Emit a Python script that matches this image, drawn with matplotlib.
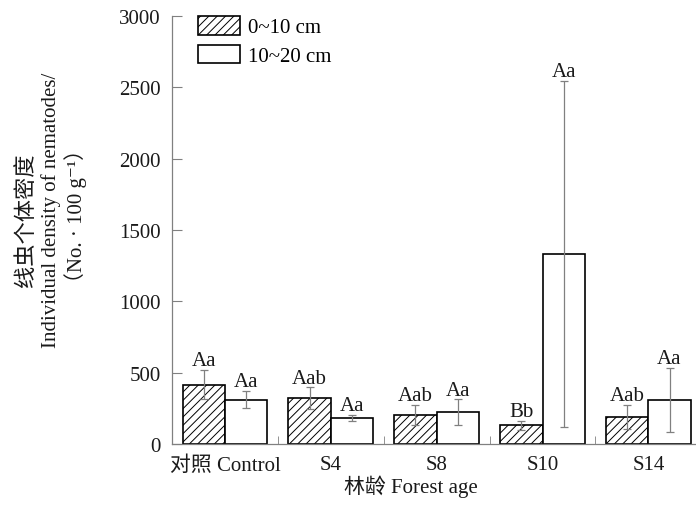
import matplotlib
matplotlib.use("Agg")
import matplotlib.pyplot as plt
import numpy as np

# values
groups = ["对照 Control", "S4", "S8", "S10", "S14"]
depth_labels = ["0~10 cm", "10~20 cm"]
mean_0_10 = [416, 322, 203, 130, 191]
err_0_10 = [102, 75, 69, 33, 85]
mean_10_20 = [309, 182, 222, 1331, 308]
err_10_20 = [60, 23, 90, 1212, 223]
sig_0_10 = ["Aa", "Aab", "Aab", "Bb", "Aab"]
sig_10_20 = ["Aa", "Aa", "Aa", "Aa", "Aa"]
ylabel_lines = ["线虫个体密度", "Individual density of nematodes/", "（No. · 100 g⁻¹）"]

FONT = ["Liberation Serif", "DejaVu Serif", "Noto Sans CJK SC"]
plt.rcParams["font.family"] = FONT
plt.rcParams["font.size"] = 15
plt.rcParams["hatch.linewidth"] = 0.7
plt.rcParams["hatch.color"] = "#333333"
TXT = "#1a1a1a"
GREY = "#808080"

fig = plt.figure(figsize=(6.96, 5.10), dpi=100)
ax = fig.add_axes([172 / 696, 65 / 510, 524 / 696, 428 / 510])

x = np.arange(len(groups))
w = 0.4
ekw = dict(ecolor=GREY, elinewidth=0.9, capsize=3.2, capthick=0.9)
ax.bar(x - w / 2, mean_0_10, w, yerr=err_0_10, color="white",
       edgecolor="black", linewidth=1.2, hatch="////",
       error_kw=ekw, label=depth_labels[0], zorder=2)
ax.bar(x + w / 2, mean_10_20, w, yerr=err_10_20, color="white",
       edgecolor="black", linewidth=1.2,
       error_kw=ekw, label=depth_labels[1], zorder=2)

for xs, m, e, s in ((x - w / 2, mean_0_10, err_0_10, sig_0_10),
                    (x + w / 2, mean_10_20, err_10_20, sig_10_20)):
    for xi, mi, ei, si in zip(xs, m, e, s):
        ax.annotate(si, (xi, mi + ei), xytext=(0, 3.5), textcoords="offset points",
                    ha="center", va="baseline", color=TXT, fontsize=15)

ax.set_xlim(-0.5, 4.45)
ax.set_ylim(0, 3000)
ax.set_yticks(np.arange(0, 3001, 500))
ax.set_xticks(x)
ax.set_xticklabels(groups)
ax.set_xticks(x[:-1] + 0.5, minor=True)
ax.tick_params(axis="x", which="major", length=0, pad=8, labelcolor=TXT)
ax.tick_params(axis="x", which="minor", direction="in", length=6, color=GREY)
ax.tick_params(axis="y", direction="in", length=7, color=GREY, pad=8, labelcolor=TXT)

for sp in ("top", "right"):
    ax.spines[sp].set_visible(False)
for sp in ("left", "bottom"):
    ax.spines[sp].set_color(GREY)
    ax.spines[sp].set_linewidth(0.9)

ax.set_xlabel("林龄 Forest age", color=TXT, fontsize=15)
ax.xaxis.set_label_coords(0.456, -0.072)

# y label: three centred lines, placed as in the reference
for xc, yc, size, line in zip((27, 51, 76), (220, 210, 216), (16, 15, 15), ylabel_lines):
    fig.text(xc / 696, 1 - yc / 510, line, rotation=90, ha="center", va="center",
             color=TXT, fontsize=size)

ax.legend(loc="upper left", bbox_to_anchor=(0.05, 1.0), frameon=False,
          handlelength=2.0, handleheight=1.0, handletextpad=0.4,
          labelspacing=0.35, borderpad=0, borderaxespad=0, fontsize=15)

fig.savefig("out.png", dpi=100)
